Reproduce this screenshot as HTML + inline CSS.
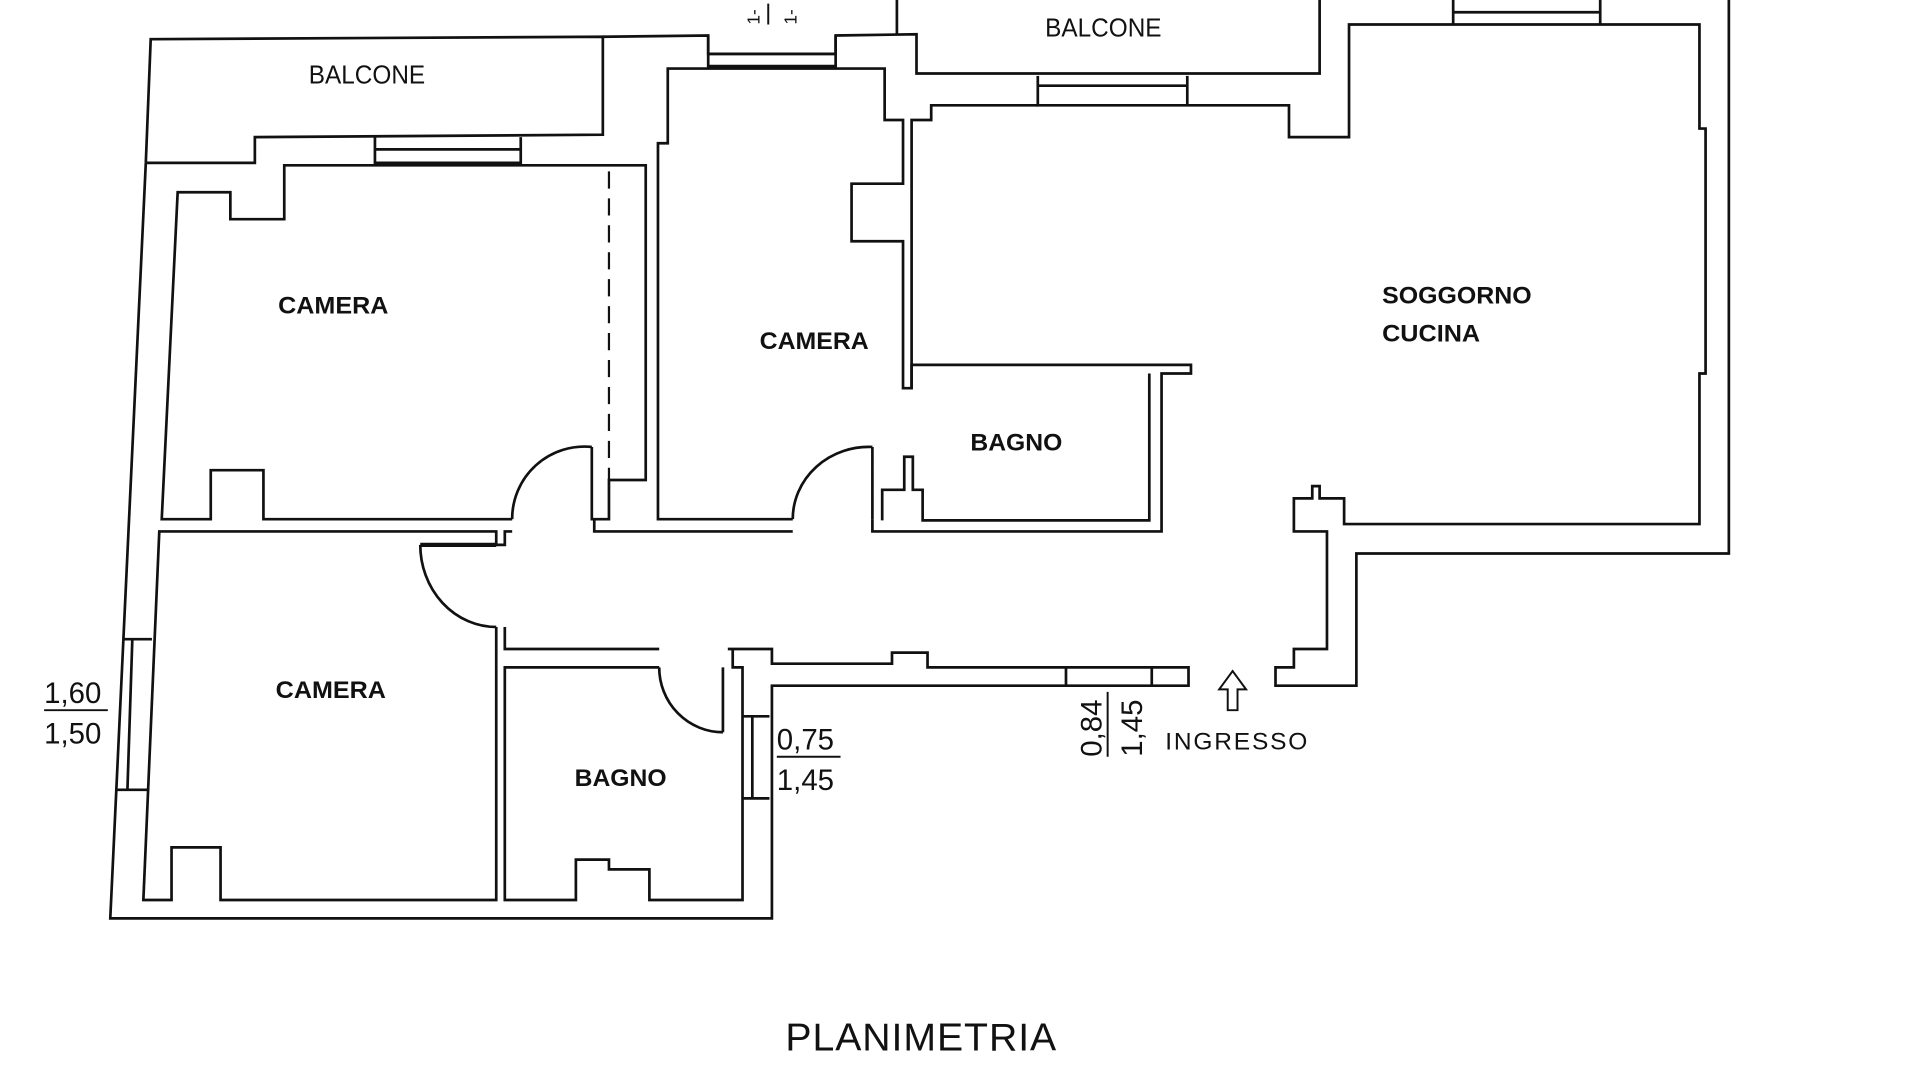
<!DOCTYPE html>
<html><head><meta charset="utf-8"><style>html,body{margin:0;padding:0;background:#fff;width:1920px;height:1080px;overflow:hidden}svg{display:block}</style></head>
<body>
<svg width="1920" height="1080" viewBox="0 0 1567 882" preserveAspectRatio="none" xmlns="http://www.w3.org/2000/svg">
<g fill="none" stroke="#111" stroke-width="2.2" stroke-linejoin="miter">
<path d="M119,133 L123,32 L492,30 L492,110 L208,112 L208,133 L119,133 L90,750 L630,750 L630,560 L970,560 L970,545 L757,545 L757,533 L728,533 L728,542 L630,542 L630,530 L606,530"/>
<path d="M492,30 L578,29 L578,44 L682,44 L682,29 L748,28 L748,60 L1077,60 L1077,0"/>
<path d="M732,0 L732,28"/>
<path d="M578,29 L578,54 L682,54 L682,29 M578,44 L682,44"/>
<path d="M306,112 L306,133 L425,133 L425,112 M306,122 L425,122"/>
<path d="M418,424 L215,424 L215,384 L172,384 L172,424 L132,424 L145,157 L188,157 L188,179 L232,179 L232,135 L527,135 L527,392 L497,392 L497,424 L483,424 L483,365"/>
<path d="M497,140 L497,392" stroke-dasharray="14,8" stroke-width="1.8"/>
<path d="M483,365 A59,59 0 0 0 418,424"/>
<path d="M647,424 L537,424 L537,117 L545,117 L545,56 L722,56 L722,98 L737,98 L737,150 L695,150 L695,197 L737,197 L737,317 L744,317 L744,98 L760,98 L760,86 L847,86"/>
<path d="M712,365 L712,424 M712,365 A62,59 0 0 0 647,424"/>
<path d="M485,424 L485,434 L647,434 M712,424 L712,434 L948,434 L948,305 L972,305 L972,298 L744,298 L744,317"/>
<path d="M720,425 L720,400 L738,400 L738,373 L745,373 L745,400 L753,400 L753,425 L938,425 L938,305"/>
<path d="M847,62 L847,86 L969,86 L969,62 M847,70 L969,70 M969,86 L1052,86 L1052,112 L1101,112 L1101,20 L1186,20 L1186,0 M1186,10 L1306,10 M1306,0 L1306,20 L1387,20 L1387,105 L1392,105 L1392,305 L1387,305 L1387,428 L1097,428 L1097,407 L1077,407 L1077,397 L1071,397 L1071,407 L1056,407 L1056,434 L1083,434 L1083,530 L1056,530 L1056,545 L1041,545 L1041,560 L1107,560 L1107,452 L1411,452 L1411,0 M1186,20 L1306,20"/>
<path d="M870,545 L870,560 M940,545 L940,560"/>
<path d="M405,512 L405,735 L180,735 L180,692 L140,692 L140,735 L117,735 L130,434 L405,434 L405,445 L412,445 L412,434 L418,434"/>
<path d="M343,445 L405,445" stroke-width="3.5"/>
<path d="M343,445 A62,67 0 0 0 405,512"/>
<path d="M412,512 L412,530 L538,530 M594,530 L606,530"/>
<path d="M538,545 L412,545 L412,735 L470,735 L470,702 L497,702 L497,710 L530,710 L530,735 L606,735 L606,545 L598,545 L598,530 M590,545 L590,598 M538,545 A52,53 0 0 0 590,598"/>
<path d="M100,522 L124,522 M95,645 L120,645 M108,522 L104,645"/>
<path d="M606,585 L628,585 M606,652 L628,652 M614,585 L614,652"/>
<path d="M36,580 L88,580 M634,618 L686,618 M904,565 L904,618 M627,3 L627,20" stroke-width="1.6"/>
<path d="M1002,580 L1002,563 L995,563 L1006,548 L1017,563 L1010,563 L1010,580 Z" stroke-width="1.6"/>
</g>
<g font-family="Liberation Sans, sans-serif" fill="#111">
<text x="252" y="68" font-size="21" textLength="95" lengthAdjust="spacingAndGlyphs">BALCONE</text>
<text x="853" y="30" font-size="21" textLength="95" lengthAdjust="spacingAndGlyphs">BALCONE</text>
<text transform="translate(620,20) rotate(-90)" font-size="14">1-</text>
<text transform="translate(650,20) rotate(-90)" font-size="14">1-</text>
<g font-weight="bold" font-size="20" font-family="Liberation Sans Narrow, Liberation Sans, sans-serif">
<text x="227" y="256" textLength="90" lengthAdjust="spacingAndGlyphs">CAMERA</text>
<text x="620" y="285" textLength="89" lengthAdjust="spacingAndGlyphs">CAMERA</text>
<text x="225" y="570" textLength="90" lengthAdjust="spacingAndGlyphs">CAMERA</text>
<text x="792" y="368" textLength="75" lengthAdjust="spacingAndGlyphs">BAGNO</text>
<text x="469" y="642" textLength="75" lengthAdjust="spacingAndGlyphs">BAGNO</text>
<text x="1128" y="248" textLength="122" lengthAdjust="spacingAndGlyphs">SOGGORNO</text>
<text x="1128" y="279" textLength="80" lengthAdjust="spacingAndGlyphs">CUCINA</text>
</g>
<text x="36" y="574" font-size="24">1,60</text>
<text x="36" y="607" font-size="24">1,50</text>
<text x="634" y="612" font-size="24">0,75</text>
<text x="634" y="645" font-size="24">1,45</text>
<text transform="translate(899,618) rotate(-90)" font-size="24">0,84</text>
<text transform="translate(932,618) rotate(-90)" font-size="24">1,45</text>
<text x="951" y="612" font-size="20" textLength="116">INGRESSO</text>
<text x="641" y="858" font-size="32" textLength="221">PLANIMETRIA</text>
</g>
</svg>
</body></html>
